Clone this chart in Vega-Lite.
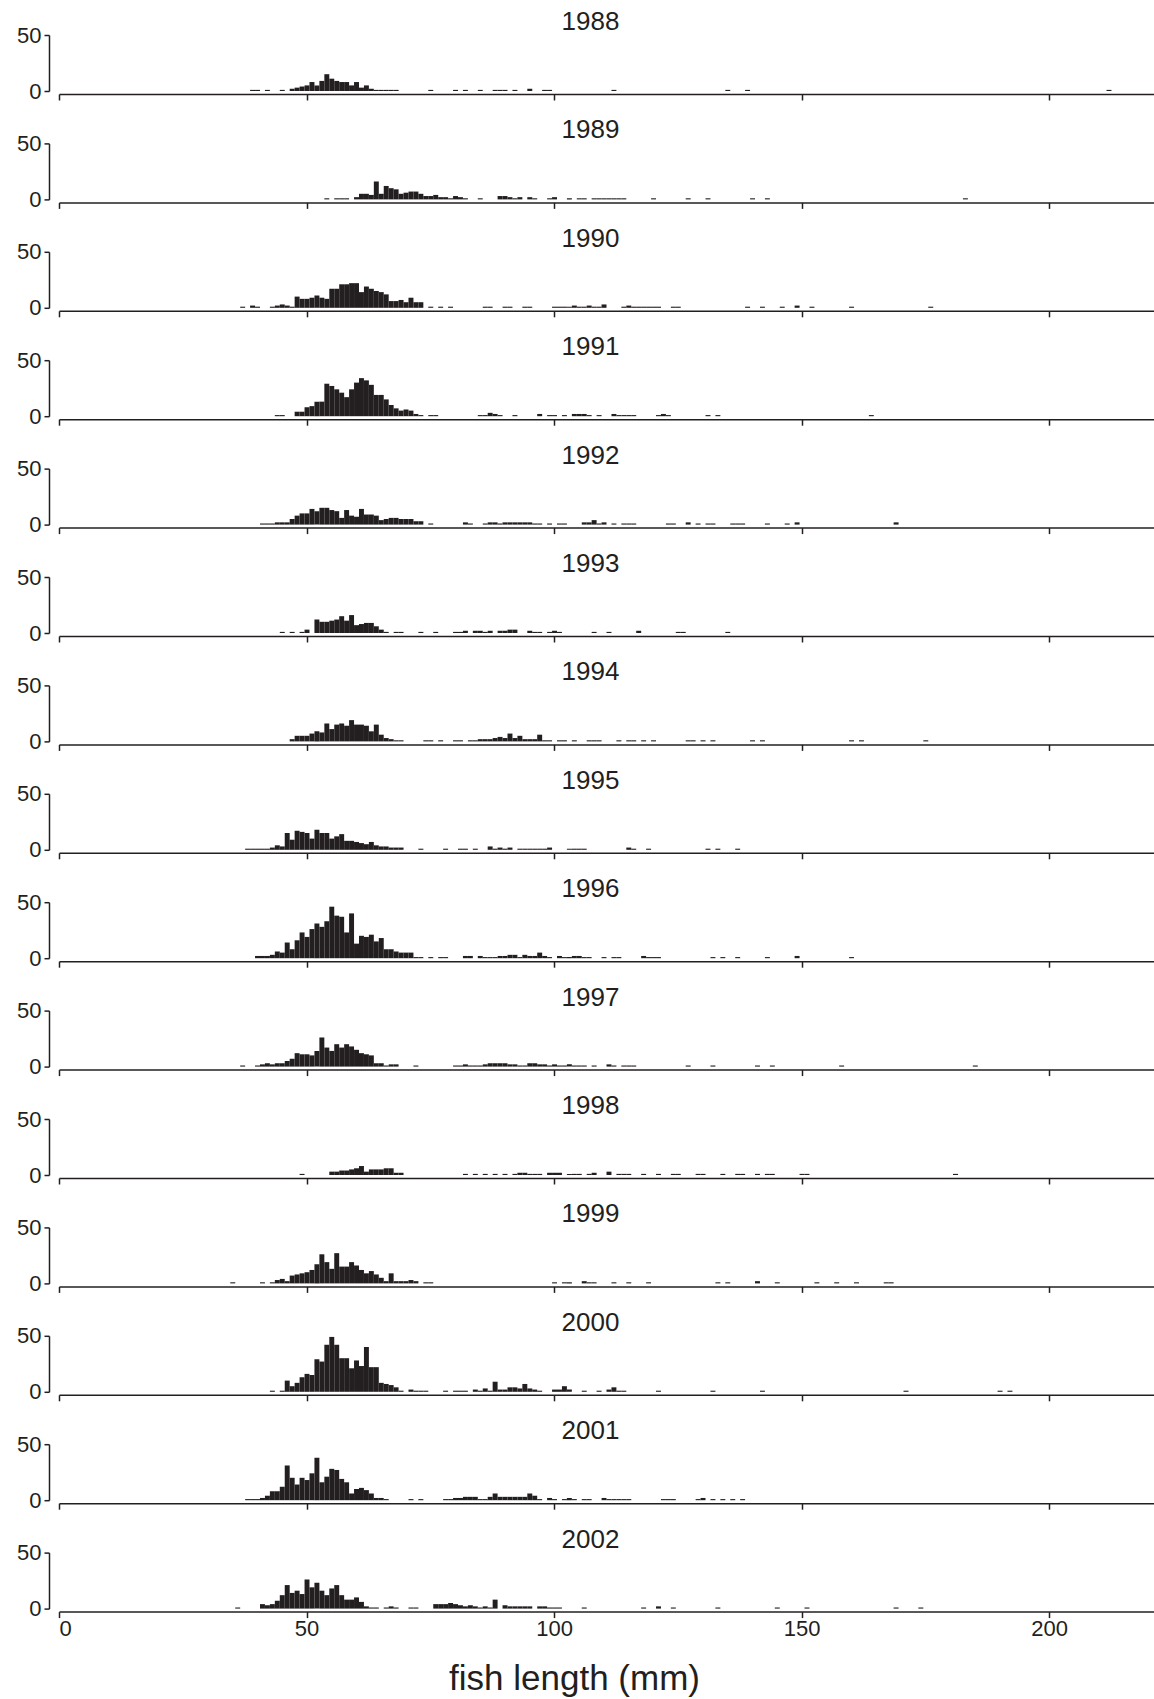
{
"$schema": "https://vega.github.io/schema/vega-lite/v6.json",
"padding": {"left": 16, "top": 9, "right": 0, "bottom": 0},
"bounds": "flush",
"spacing": 52.4,
"datasets": {
"d1988": [{"len":38.5,"n":1},{"len":39.5,"n":1},{"len":41.5,"n":1},{"len":44.5,"n":1},{"len":46.5,"n":2},{"len":47.5,"n":3},{"len":48.5,"n":4},{"len":49.5,"n":5},{"len":50.5,"n":8},{"len":51.5,"n":5},{"len":52.5,"n":9},{"len":53.5,"n":15},{"len":54.5,"n":11},{"len":55.5,"n":9},{"len":56.5,"n":8},{"len":57.5,"n":8},{"len":58.5,"n":5},{"len":59.5,"n":8},{"len":60.5,"n":3},{"len":61.5,"n":5},{"len":62.5,"n":2},{"len":63.5,"n":1},{"len":64.5,"n":1},{"len":65.5,"n":1},{"len":66.5,"n":1},{"len":67.5,"n":1},{"len":74.5,"n":1},{"len":79.5,"n":1},{"len":81.5,"n":1},{"len":84.5,"n":1},{"len":87.5,"n":1},{"len":88.5,"n":1},{"len":89.5,"n":1},{"len":91.5,"n":1},{"len":94.5,"n":2},{"len":97.5,"n":1},{"len":98.5,"n":1},{"len":111.5,"n":1},{"len":134.5,"n":1},{"len":138.5,"n":1},{"len":211.5,"n":1}],
"d1989": [{"len":53.5,"n":1},{"len":55.5,"n":1},{"len":56.5,"n":1},{"len":57.5,"n":1},{"len":59.5,"n":2},{"len":60.5,"n":5},{"len":61.5,"n":5},{"len":62.5,"n":4},{"len":63.5,"n":16},{"len":64.5,"n":5},{"len":65.5,"n":12},{"len":66.5,"n":10},{"len":67.5,"n":9},{"len":68.5,"n":5},{"len":69.5,"n":6},{"len":70.5,"n":7},{"len":71.5,"n":7},{"len":72.5,"n":5},{"len":73.5,"n":3},{"len":74.5,"n":3},{"len":75.5,"n":4},{"len":76.5,"n":2},{"len":77.5,"n":2},{"len":78.5,"n":1},{"len":79.5,"n":3},{"len":80.5,"n":2},{"len":81.5,"n":1},{"len":84.5,"n":1},{"len":88.5,"n":3},{"len":89.5,"n":3},{"len":90.5,"n":2},{"len":91.5,"n":1},{"len":92.5,"n":2},{"len":94.5,"n":2},{"len":95.5,"n":1},{"len":98.5,"n":1},{"len":99.5,"n":2},{"len":102.5,"n":1},{"len":104.5,"n":1},{"len":105.5,"n":1},{"len":107.5,"n":1},{"len":108.5,"n":1},{"len":109.5,"n":1},{"len":110.5,"n":1},{"len":111.5,"n":1},{"len":112.5,"n":1},{"len":113.5,"n":1},{"len":119.5,"n":1},{"len":126.5,"n":1},{"len":130.5,"n":1},{"len":139.5,"n":1},{"len":142.5,"n":1},{"len":182.5,"n":1}],
"d1990": [{"len":36.5,"n":1},{"len":38.5,"n":2},{"len":39.5,"n":1},{"len":42.5,"n":1},{"len":43.5,"n":2},{"len":44.5,"n":3},{"len":45.5,"n":2},{"len":46.5,"n":1},{"len":47.5,"n":10},{"len":48.5,"n":8},{"len":49.5,"n":8},{"len":50.5,"n":9},{"len":51.5,"n":11},{"len":52.5,"n":9},{"len":53.5,"n":8},{"len":54.5,"n":17},{"len":55.5,"n":17},{"len":56.5,"n":21},{"len":57.5,"n":21},{"len":58.5,"n":22},{"len":59.5,"n":22},{"len":60.5,"n":14},{"len":61.5,"n":19},{"len":62.5,"n":17},{"len":63.5,"n":15},{"len":64.5,"n":14},{"len":65.5,"n":12},{"len":66.5,"n":6},{"len":67.5,"n":6},{"len":68.5,"n":7},{"len":69.5,"n":5},{"len":70.5,"n":9},{"len":71.5,"n":5},{"len":72.5,"n":5},{"len":74.5,"n":1},{"len":76.5,"n":1},{"len":78.5,"n":1},{"len":85.5,"n":1},{"len":86.5,"n":1},{"len":89.5,"n":1},{"len":90.5,"n":1},{"len":93.5,"n":1},{"len":94.5,"n":1},{"len":99.5,"n":1},{"len":100.5,"n":1},{"len":101.5,"n":1},{"len":102.5,"n":1},{"len":103.5,"n":2},{"len":104.5,"n":1},{"len":105.5,"n":1},{"len":106.5,"n":2},{"len":107.5,"n":1},{"len":108.5,"n":1},{"len":109.5,"n":3},{"len":113.5,"n":1},{"len":114.5,"n":2},{"len":115.5,"n":1},{"len":116.5,"n":1},{"len":117.5,"n":1},{"len":118.5,"n":1},{"len":119.5,"n":1},{"len":120.5,"n":1},{"len":123.5,"n":1},{"len":124.5,"n":1},{"len":138.5,"n":1},{"len":141.5,"n":1},{"len":145.5,"n":1},{"len":148.5,"n":2},{"len":151.5,"n":1},{"len":159.5,"n":1},{"len":175.5,"n":1}],
"d1991": [{"len":43.5,"n":1},{"len":44.5,"n":1},{"len":47.5,"n":4},{"len":48.5,"n":4},{"len":49.5,"n":8},{"len":50.5,"n":9},{"len":51.5,"n":13},{"len":52.5,"n":13},{"len":53.5,"n":29},{"len":54.5,"n":27},{"len":55.5,"n":24},{"len":56.5,"n":21},{"len":57.5,"n":17},{"len":58.5,"n":24},{"len":59.5,"n":30},{"len":60.5,"n":34},{"len":61.5,"n":32},{"len":62.5,"n":28},{"len":63.5,"n":19},{"len":64.5,"n":19},{"len":65.5,"n":15},{"len":66.5,"n":10},{"len":67.5,"n":7},{"len":68.5,"n":5},{"len":69.5,"n":6},{"len":70.5,"n":5},{"len":71.5,"n":2},{"len":72.5,"n":1},{"len":74.5,"n":1},{"len":75.5,"n":1},{"len":84.5,"n":1},{"len":85.5,"n":1},{"len":86.5,"n":3},{"len":87.5,"n":2},{"len":88.5,"n":1},{"len":91.5,"n":1},{"len":96.5,"n":2},{"len":98.5,"n":1},{"len":99.5,"n":1},{"len":101.5,"n":1},{"len":103.5,"n":2},{"len":104.5,"n":2},{"len":105.5,"n":2},{"len":106.5,"n":1},{"len":108.5,"n":1},{"len":111.5,"n":2},{"len":112.5,"n":1},{"len":113.5,"n":1},{"len":114.5,"n":1},{"len":115.5,"n":1},{"len":120.5,"n":1},{"len":121.5,"n":2},{"len":122.5,"n":1},{"len":130.5,"n":1},{"len":132.5,"n":1},{"len":163.5,"n":1}],
"d1992": [{"len":40.5,"n":1},{"len":41.5,"n":1},{"len":42.5,"n":1},{"len":43.5,"n":2},{"len":44.5,"n":2},{"len":45.5,"n":2},{"len":46.5,"n":5},{"len":47.5,"n":8},{"len":48.5,"n":10},{"len":49.5,"n":10},{"len":50.5,"n":14},{"len":51.5,"n":12},{"len":52.5,"n":15},{"len":53.5,"n":15},{"len":54.5,"n":13},{"len":55.5,"n":12},{"len":56.5,"n":6},{"len":57.5,"n":13},{"len":58.5,"n":8},{"len":59.5,"n":7},{"len":60.5,"n":14},{"len":61.5,"n":9},{"len":62.5,"n":9},{"len":63.5,"n":8},{"len":64.5,"n":4},{"len":65.5,"n":5},{"len":66.5,"n":6},{"len":67.5,"n":6},{"len":68.5,"n":5},{"len":69.5,"n":5},{"len":70.5,"n":5},{"len":71.5,"n":3},{"len":72.5,"n":3},{"len":74.5,"n":1},{"len":81.5,"n":2},{"len":82.5,"n":1},{"len":85.5,"n":1},{"len":86.5,"n":2},{"len":87.5,"n":2},{"len":88.5,"n":1},{"len":89.5,"n":2},{"len":90.5,"n":2},{"len":91.5,"n":2},{"len":92.5,"n":2},{"len":93.5,"n":2},{"len":94.5,"n":2},{"len":95.5,"n":1},{"len":96.5,"n":1},{"len":98.5,"n":1},{"len":100.5,"n":1},{"len":101.5,"n":1},{"len":105.5,"n":2},{"len":106.5,"n":2},{"len":107.5,"n":4},{"len":108.5,"n":1},{"len":109.5,"n":2},{"len":111.5,"n":1},{"len":113.5,"n":1},{"len":114.5,"n":1},{"len":115.5,"n":1},{"len":122.5,"n":1},{"len":123.5,"n":1},{"len":126.5,"n":2},{"len":128.5,"n":1},{"len":130.5,"n":1},{"len":131.5,"n":1},{"len":135.5,"n":1},{"len":136.5,"n":1},{"len":137.5,"n":1},{"len":142.5,"n":1},{"len":146.5,"n":1},{"len":148.5,"n":2},{"len":168.5,"n":2}],
"d1993": [{"len":44.5,"n":1},{"len":46.5,"n":1},{"len":48.5,"n":1},{"len":49.5,"n":3},{"len":51.5,"n":12},{"len":52.5,"n":10},{"len":53.5,"n":10},{"len":54.5,"n":11},{"len":55.5,"n":12},{"len":56.5,"n":15},{"len":57.5,"n":11},{"len":58.5,"n":16},{"len":59.5,"n":7},{"len":60.5,"n":8},{"len":61.5,"n":9},{"len":62.5,"n":9},{"len":63.5,"n":6},{"len":64.5,"n":3},{"len":65.5,"n":1},{"len":67.5,"n":1},{"len":68.5,"n":1},{"len":72.5,"n":1},{"len":75.5,"n":1},{"len":79.5,"n":1},{"len":80.5,"n":1},{"len":81.5,"n":2},{"len":83.5,"n":2},{"len":84.5,"n":2},{"len":85.5,"n":1},{"len":86.5,"n":2},{"len":88.5,"n":2},{"len":89.5,"n":2},{"len":90.5,"n":3},{"len":91.5,"n":3},{"len":94.5,"n":2},{"len":95.5,"n":1},{"len":96.5,"n":1},{"len":98.5,"n":1},{"len":99.5,"n":2},{"len":100.5,"n":1},{"len":107.5,"n":1},{"len":110.5,"n":1},{"len":116.5,"n":2},{"len":124.5,"n":1},{"len":125.5,"n":1},{"len":134.5,"n":1}],
"d1994": [{"len":46.5,"n":2},{"len":47.5,"n":5},{"len":48.5,"n":5},{"len":49.5,"n":5},{"len":50.5,"n":7},{"len":51.5,"n":9},{"len":52.5,"n":8},{"len":53.5,"n":16},{"len":54.5,"n":11},{"len":55.5,"n":15},{"len":56.5,"n":16},{"len":57.5,"n":14},{"len":58.5,"n":19},{"len":59.5,"n":15},{"len":60.5,"n":15},{"len":61.5,"n":14},{"len":62.5,"n":9},{"len":63.5,"n":15},{"len":64.5,"n":6},{"len":65.5,"n":3},{"len":66.5,"n":2},{"len":67.5,"n":1},{"len":68.5,"n":1},{"len":73.5,"n":1},{"len":74.5,"n":1},{"len":76.5,"n":1},{"len":79.5,"n":1},{"len":80.5,"n":1},{"len":82.5,"n":1},{"len":83.5,"n":1},{"len":84.5,"n":2},{"len":85.5,"n":2},{"len":86.5,"n":2},{"len":87.5,"n":3},{"len":88.5,"n":4},{"len":89.5,"n":3},{"len":90.5,"n":7},{"len":91.5,"n":3},{"len":92.5,"n":5},{"len":93.5,"n":2},{"len":94.5,"n":2},{"len":95.5,"n":2},{"len":96.5,"n":6},{"len":97.5,"n":1},{"len":98.5,"n":1},{"len":100.5,"n":1},{"len":101.5,"n":1},{"len":103.5,"n":1},{"len":106.5,"n":1},{"len":107.5,"n":1},{"len":108.5,"n":1},{"len":112.5,"n":1},{"len":114.5,"n":1},{"len":115.5,"n":1},{"len":117.5,"n":1},{"len":119.5,"n":1},{"len":126.5,"n":1},{"len":127.5,"n":1},{"len":129.5,"n":1},{"len":131.5,"n":1},{"len":139.5,"n":1},{"len":141.5,"n":1},{"len":159.5,"n":1},{"len":161.5,"n":1},{"len":174.5,"n":1}],
"d1995": [{"len":37.5,"n":1},{"len":38.5,"n":1},{"len":39.5,"n":1},{"len":40.5,"n":1},{"len":41.5,"n":1},{"len":42.5,"n":2},{"len":43.5,"n":4},{"len":44.5,"n":3},{"len":45.5,"n":15},{"len":46.5,"n":9},{"len":47.5,"n":17},{"len":48.5,"n":16},{"len":49.5,"n":15},{"len":50.5,"n":10},{"len":51.5,"n":18},{"len":52.5,"n":15},{"len":53.5,"n":15},{"len":54.5,"n":10},{"len":55.5,"n":12},{"len":56.5,"n":14},{"len":57.5,"n":8},{"len":58.5,"n":8},{"len":59.5,"n":7},{"len":60.5,"n":6},{"len":61.5,"n":5},{"len":62.5,"n":7},{"len":63.5,"n":4},{"len":64.5,"n":3},{"len":65.5,"n":3},{"len":66.5,"n":2},{"len":67.5,"n":2},{"len":68.5,"n":2},{"len":72.5,"n":1},{"len":77.5,"n":1},{"len":80.5,"n":1},{"len":81.5,"n":1},{"len":83.5,"n":1},{"len":86.5,"n":3},{"len":87.5,"n":1},{"len":88.5,"n":2},{"len":89.5,"n":1},{"len":90.5,"n":2},{"len":92.5,"n":1},{"len":93.5,"n":1},{"len":94.5,"n":1},{"len":95.5,"n":1},{"len":96.5,"n":1},{"len":97.5,"n":1},{"len":98.5,"n":2},{"len":102.5,"n":1},{"len":103.5,"n":1},{"len":104.5,"n":1},{"len":105.5,"n":1},{"len":114.5,"n":2},{"len":115.5,"n":1},{"len":118.5,"n":1},{"len":130.5,"n":1},{"len":132.5,"n":1},{"len":136.5,"n":1}],
"d1996": [{"len":39.5,"n":2},{"len":40.5,"n":2},{"len":41.5,"n":2},{"len":42.5,"n":3},{"len":43.5,"n":6},{"len":44.5,"n":5},{"len":45.5,"n":14},{"len":46.5,"n":8},{"len":47.5,"n":16},{"len":48.5,"n":23},{"len":49.5,"n":19},{"len":50.5,"n":26},{"len":51.5,"n":31},{"len":52.5,"n":28},{"len":53.5,"n":33},{"len":54.5,"n":46},{"len":55.5,"n":38},{"len":56.5,"n":37},{"len":57.5,"n":23},{"len":58.5,"n":40},{"len":59.5,"n":13},{"len":60.5,"n":20},{"len":61.5,"n":19},{"len":62.5,"n":21},{"len":63.5,"n":15},{"len":64.5,"n":18},{"len":65.5,"n":8},{"len":66.5,"n":8},{"len":67.5,"n":6},{"len":68.5,"n":5},{"len":69.5,"n":5},{"len":70.5,"n":5},{"len":71.5,"n":1},{"len":72.5,"n":1},{"len":74.5,"n":1},{"len":76.5,"n":1},{"len":77.5,"n":1},{"len":81.5,"n":2},{"len":82.5,"n":2},{"len":84.5,"n":2},{"len":85.5,"n":1},{"len":86.5,"n":1},{"len":87.5,"n":1},{"len":88.5,"n":2},{"len":89.5,"n":2},{"len":90.5,"n":3},{"len":91.5,"n":3},{"len":92.5,"n":1},{"len":93.5,"n":3},{"len":94.5,"n":2},{"len":95.5,"n":2},{"len":96.5,"n":5},{"len":97.5,"n":2},{"len":98.5,"n":1},{"len":100.5,"n":2},{"len":101.5,"n":1},{"len":102.5,"n":1},{"len":103.5,"n":2},{"len":104.5,"n":2},{"len":105.5,"n":1},{"len":106.5,"n":1},{"len":109.5,"n":1},{"len":111.5,"n":1},{"len":112.5,"n":1},{"len":117.5,"n":2},{"len":118.5,"n":1},{"len":119.5,"n":1},{"len":120.5,"n":1},{"len":131.5,"n":1},{"len":133.5,"n":1},{"len":136.5,"n":1},{"len":142.5,"n":1},{"len":148.5,"n":2},{"len":159.5,"n":1}],
"d1997": [{"len":36.5,"n":1},{"len":39.5,"n":1},{"len":40.5,"n":2},{"len":41.5,"n":3},{"len":42.5,"n":2},{"len":43.5,"n":3},{"len":44.5,"n":3},{"len":45.5,"n":5},{"len":46.5,"n":7},{"len":47.5,"n":12},{"len":48.5,"n":11},{"len":49.5,"n":11},{"len":50.5,"n":10},{"len":51.5,"n":14},{"len":52.5,"n":26},{"len":53.5,"n":17},{"len":54.5,"n":14},{"len":55.5,"n":20},{"len":56.5,"n":17},{"len":57.5,"n":20},{"len":58.5,"n":18},{"len":59.5,"n":15},{"len":60.5,"n":12},{"len":61.5,"n":11},{"len":62.5,"n":10},{"len":63.5,"n":3},{"len":64.5,"n":3},{"len":65.5,"n":1},{"len":66.5,"n":2},{"len":67.5,"n":2},{"len":71.5,"n":1},{"len":79.5,"n":1},{"len":80.5,"n":1},{"len":81.5,"n":2},{"len":82.5,"n":1},{"len":83.5,"n":1},{"len":84.5,"n":1},{"len":85.5,"n":2},{"len":86.5,"n":3},{"len":87.5,"n":3},{"len":88.5,"n":3},{"len":89.5,"n":3},{"len":90.5,"n":2},{"len":91.5,"n":2},{"len":92.5,"n":1},{"len":93.5,"n":1},{"len":94.5,"n":3},{"len":95.5,"n":3},{"len":96.5,"n":2},{"len":97.5,"n":2},{"len":98.5,"n":1},{"len":99.5,"n":2},{"len":100.5,"n":1},{"len":101.5,"n":1},{"len":102.5,"n":2},{"len":103.5,"n":1},{"len":104.5,"n":1},{"len":105.5,"n":1},{"len":107.5,"n":1},{"len":110.5,"n":2},{"len":111.5,"n":1},{"len":113.5,"n":1},{"len":114.5,"n":1},{"len":115.5,"n":1},{"len":126.5,"n":1},{"len":131.5,"n":1},{"len":140.5,"n":1},{"len":143.5,"n":1},{"len":157.5,"n":1},{"len":184.5,"n":1}],
"d1998": [{"len":48.5,"n":1},{"len":54.5,"n":3},{"len":55.5,"n":3},{"len":56.5,"n":4},{"len":57.5,"n":4},{"len":58.5,"n":5},{"len":59.5,"n":6},{"len":60.5,"n":8},{"len":61.5,"n":3},{"len":62.5,"n":5},{"len":63.5,"n":5},{"len":64.5,"n":5},{"len":65.5,"n":6},{"len":66.5,"n":6},{"len":67.5,"n":2},{"len":68.5,"n":2},{"len":81.5,"n":1},{"len":83.5,"n":1},{"len":85.5,"n":1},{"len":87.5,"n":1},{"len":89.5,"n":1},{"len":91.5,"n":1},{"len":92.5,"n":2},{"len":93.5,"n":2},{"len":94.5,"n":1},{"len":95.5,"n":1},{"len":96.5,"n":1},{"len":98.5,"n":2},{"len":99.5,"n":2},{"len":100.5,"n":2},{"len":102.5,"n":1},{"len":103.5,"n":1},{"len":104.5,"n":1},{"len":106.5,"n":1},{"len":107.5,"n":2},{"len":110.5,"n":3},{"len":112.5,"n":1},{"len":113.5,"n":1},{"len":114.5,"n":1},{"len":117.5,"n":1},{"len":120.5,"n":1},{"len":123.5,"n":1},{"len":124.5,"n":1},{"len":128.5,"n":1},{"len":129.5,"n":1},{"len":133.5,"n":1},{"len":136.5,"n":1},{"len":137.5,"n":1},{"len":140.5,"n":1},{"len":142.5,"n":1},{"len":143.5,"n":1},{"len":149.5,"n":1},{"len":150.5,"n":1},{"len":180.5,"n":1}],
"d1999": [{"len":34.5,"n":1},{"len":40.5,"n":1},{"len":42.5,"n":1},{"len":43.5,"n":3},{"len":44.5,"n":4},{"len":45.5,"n":2},{"len":46.5,"n":7},{"len":47.5,"n":8},{"len":48.5,"n":9},{"len":49.5,"n":10},{"len":50.5,"n":12},{"len":51.5,"n":17},{"len":52.5,"n":26},{"len":53.5,"n":19},{"len":54.5,"n":13},{"len":55.5,"n":27},{"len":56.5,"n":15},{"len":57.5,"n":15},{"len":58.5,"n":19},{"len":59.5,"n":16},{"len":60.5,"n":12},{"len":61.5,"n":9},{"len":62.5,"n":11},{"len":63.5,"n":8},{"len":64.5,"n":5},{"len":65.5,"n":2},{"len":66.5,"n":9},{"len":67.5,"n":2},{"len":68.5,"n":2},{"len":69.5,"n":2},{"len":70.5,"n":3},{"len":71.5,"n":2},{"len":73.5,"n":1},{"len":74.5,"n":1},{"len":99.5,"n":1},{"len":101.5,"n":1},{"len":102.5,"n":1},{"len":105.5,"n":2},{"len":106.5,"n":1},{"len":107.5,"n":1},{"len":111.5,"n":1},{"len":114.5,"n":1},{"len":118.5,"n":1},{"len":132.5,"n":1},{"len":134.5,"n":1},{"len":140.5,"n":2},{"len":144.5,"n":1},{"len":152.5,"n":1},{"len":156.5,"n":1},{"len":160.5,"n":1},{"len":166.5,"n":1},{"len":167.5,"n":1}],
"d2000": [{"len":42.5,"n":1},{"len":44.5,"n":1},{"len":45.5,"n":10},{"len":46.5,"n":5},{"len":47.5,"n":8},{"len":48.5,"n":13},{"len":49.5,"n":16},{"len":50.5,"n":15},{"len":51.5,"n":29},{"len":52.5,"n":27},{"len":53.5,"n":42},{"len":54.5,"n":49},{"len":55.5,"n":42},{"len":56.5,"n":30},{"len":57.5,"n":30},{"len":58.5,"n":21},{"len":59.5,"n":28},{"len":60.5,"n":23},{"len":61.5,"n":40},{"len":62.5,"n":22},{"len":63.5,"n":22},{"len":64.5,"n":8},{"len":65.5,"n":7},{"len":66.5,"n":6},{"len":67.5,"n":4},{"len":68.5,"n":1},{"len":70.5,"n":2},{"len":71.5,"n":1},{"len":72.5,"n":1},{"len":73.5,"n":1},{"len":77.5,"n":1},{"len":79.5,"n":1},{"len":80.5,"n":1},{"len":81.5,"n":1},{"len":83.5,"n":2},{"len":84.5,"n":1},{"len":85.5,"n":3},{"len":86.5,"n":1},{"len":87.5,"n":9},{"len":88.5,"n":2},{"len":89.5,"n":2},{"len":90.5,"n":4},{"len":91.5,"n":4},{"len":92.5,"n":3},{"len":93.5,"n":7},{"len":94.5,"n":3},{"len":95.5,"n":2},{"len":96.5,"n":1},{"len":99.5,"n":2},{"len":100.5,"n":2},{"len":101.5,"n":5},{"len":102.5,"n":2},{"len":105.5,"n":1},{"len":108.5,"n":1},{"len":110.5,"n":2},{"len":111.5,"n":4},{"len":112.5,"n":1},{"len":113.5,"n":1},{"len":120.5,"n":1},{"len":131.5,"n":1},{"len":141.5,"n":1},{"len":170.5,"n":1},{"len":189.5,"n":1},{"len":191.5,"n":1}],
"d2001": [{"len":37.5,"n":1},{"len":38.5,"n":1},{"len":39.5,"n":1},{"len":40.5,"n":2},{"len":41.5,"n":4},{"len":42.5,"n":8},{"len":43.5,"n":8},{"len":44.5,"n":12},{"len":45.5,"n":31},{"len":46.5,"n":20},{"len":47.5,"n":14},{"len":48.5,"n":20},{"len":49.5,"n":18},{"len":50.5,"n":24},{"len":51.5,"n":38},{"len":52.5,"n":16},{"len":53.5,"n":21},{"len":54.5,"n":28},{"len":55.5,"n":27},{"len":56.5,"n":19},{"len":57.5,"n":16},{"len":58.5,"n":6},{"len":59.5,"n":10},{"len":60.5,"n":11},{"len":61.5,"n":9},{"len":62.5,"n":6},{"len":63.5,"n":2},{"len":64.5,"n":2},{"len":65.5,"n":1},{"len":70.5,"n":1},{"len":72.5,"n":1},{"len":77.5,"n":1},{"len":78.5,"n":1},{"len":79.5,"n":2},{"len":80.5,"n":2},{"len":81.5,"n":3},{"len":82.5,"n":3},{"len":83.5,"n":3},{"len":84.5,"n":1},{"len":85.5,"n":1},{"len":86.5,"n":3},{"len":87.5,"n":6},{"len":88.5,"n":3},{"len":89.5,"n":3},{"len":90.5,"n":3},{"len":91.5,"n":3},{"len":92.5,"n":3},{"len":93.5,"n":3},{"len":94.5,"n":6},{"len":95.5,"n":4},{"len":96.5,"n":1},{"len":98.5,"n":2},{"len":99.5,"n":1},{"len":101.5,"n":1},{"len":102.5,"n":2},{"len":103.5,"n":1},{"len":105.5,"n":1},{"len":106.5,"n":1},{"len":109.5,"n":2},{"len":110.5,"n":1},{"len":111.5,"n":1},{"len":112.5,"n":1},{"len":113.5,"n":1},{"len":114.5,"n":1},{"len":121.5,"n":1},{"len":122.5,"n":1},{"len":123.5,"n":1},{"len":128.5,"n":1},{"len":129.5,"n":2},{"len":131.5,"n":1},{"len":133.5,"n":1},{"len":135.5,"n":1},{"len":137.5,"n":1}],
"d2002": [{"len":35.5,"n":1},{"len":40.5,"n":4},{"len":41.5,"n":3},{"len":42.5,"n":4},{"len":43.5,"n":7},{"len":44.5,"n":12},{"len":45.5,"n":21},{"len":46.5,"n":14},{"len":47.5,"n":16},{"len":48.5,"n":13},{"len":49.5,"n":26},{"len":50.5,"n":19},{"len":51.5,"n":23},{"len":52.5,"n":16},{"len":53.5,"n":12},{"len":54.5,"n":18},{"len":55.5,"n":21},{"len":56.5,"n":12},{"len":57.5,"n":8},{"len":58.5,"n":8},{"len":59.5,"n":10},{"len":60.5,"n":6},{"len":61.5,"n":2},{"len":62.5,"n":1},{"len":63.5,"n":1},{"len":65.5,"n":1},{"len":66.5,"n":2},{"len":67.5,"n":1},{"len":70.5,"n":1},{"len":71.5,"n":1},{"len":75.5,"n":4},{"len":76.5,"n":4},{"len":77.5,"n":4},{"len":78.5,"n":5},{"len":79.5,"n":4},{"len":80.5,"n":3},{"len":81.5,"n":2},{"len":82.5,"n":3},{"len":83.5,"n":2},{"len":84.5,"n":1},{"len":85.5,"n":2},{"len":86.5,"n":1},{"len":87.5,"n":8},{"len":89.5,"n":3},{"len":90.5,"n":2},{"len":91.5,"n":2},{"len":92.5,"n":2},{"len":93.5,"n":2},{"len":94.5,"n":2},{"len":96.5,"n":2},{"len":97.5,"n":2},{"len":98.5,"n":1},{"len":99.5,"n":1},{"len":100.5,"n":1},{"len":105.5,"n":1},{"len":117.5,"n":1},{"len":120.5,"n":2},{"len":123.5,"n":1},{"len":132.5,"n":1},{"len":144.5,"n":1},{"len":150.5,"n":1},{"len":168.5,"n":1},{"len":173.5,"n":1}]
},
"vconcat": [
{"data":{"name":"d1988"},"title":"1988","mark":"bar","encoding":{"x":{"field":"len","type":"quantitative","bin":{"binned":true,"step":1},"scale":{"domain":[0,221.2],"nice":false,"zero":false},"axis":{"values":[0,50,100,150,200],"labels":false,"title":null}},"y":{"field":"n","type":"quantitative","scale":{"domain":[0,50],"nice":false},"axis":{"values":[0,50],"title":null}}}},
{"data":{"name":"d1989"},"title":"1989","mark":"bar","encoding":{"x":{"field":"len","type":"quantitative","bin":{"binned":true,"step":1},"scale":{"domain":[0,221.2],"nice":false,"zero":false},"axis":{"values":[0,50,100,150,200],"labels":false,"title":null}},"y":{"field":"n","type":"quantitative","scale":{"domain":[0,50],"nice":false},"axis":{"values":[0,50],"title":null}}}},
{"data":{"name":"d1990"},"title":"1990","mark":"bar","encoding":{"x":{"field":"len","type":"quantitative","bin":{"binned":true,"step":1},"scale":{"domain":[0,221.2],"nice":false,"zero":false},"axis":{"values":[0,50,100,150,200],"labels":false,"title":null}},"y":{"field":"n","type":"quantitative","scale":{"domain":[0,50],"nice":false},"axis":{"values":[0,50],"title":null}}}},
{"data":{"name":"d1991"},"title":"1991","mark":"bar","encoding":{"x":{"field":"len","type":"quantitative","bin":{"binned":true,"step":1},"scale":{"domain":[0,221.2],"nice":false,"zero":false},"axis":{"values":[0,50,100,150,200],"labels":false,"title":null}},"y":{"field":"n","type":"quantitative","scale":{"domain":[0,50],"nice":false},"axis":{"values":[0,50],"title":null}}}},
{"data":{"name":"d1992"},"title":"1992","mark":"bar","encoding":{"x":{"field":"len","type":"quantitative","bin":{"binned":true,"step":1},"scale":{"domain":[0,221.2],"nice":false,"zero":false},"axis":{"values":[0,50,100,150,200],"labels":false,"title":null}},"y":{"field":"n","type":"quantitative","scale":{"domain":[0,50],"nice":false},"axis":{"values":[0,50],"title":null}}}},
{"data":{"name":"d1993"},"title":"1993","mark":"bar","encoding":{"x":{"field":"len","type":"quantitative","bin":{"binned":true,"step":1},"scale":{"domain":[0,221.2],"nice":false,"zero":false},"axis":{"values":[0,50,100,150,200],"labels":false,"title":null}},"y":{"field":"n","type":"quantitative","scale":{"domain":[0,50],"nice":false},"axis":{"values":[0,50],"title":null}}}},
{"data":{"name":"d1994"},"title":"1994","mark":"bar","encoding":{"x":{"field":"len","type":"quantitative","bin":{"binned":true,"step":1},"scale":{"domain":[0,221.2],"nice":false,"zero":false},"axis":{"values":[0,50,100,150,200],"labels":false,"title":null}},"y":{"field":"n","type":"quantitative","scale":{"domain":[0,50],"nice":false},"axis":{"values":[0,50],"title":null}}}},
{"data":{"name":"d1995"},"title":"1995","mark":"bar","encoding":{"x":{"field":"len","type":"quantitative","bin":{"binned":true,"step":1},"scale":{"domain":[0,221.2],"nice":false,"zero":false},"axis":{"values":[0,50,100,150,200],"labels":false,"title":null}},"y":{"field":"n","type":"quantitative","scale":{"domain":[0,50],"nice":false},"axis":{"values":[0,50],"title":null}}}},
{"data":{"name":"d1996"},"title":"1996","mark":"bar","encoding":{"x":{"field":"len","type":"quantitative","bin":{"binned":true,"step":1},"scale":{"domain":[0,221.2],"nice":false,"zero":false},"axis":{"values":[0,50,100,150,200],"labels":false,"title":null}},"y":{"field":"n","type":"quantitative","scale":{"domain":[0,50],"nice":false},"axis":{"values":[0,50],"title":null}}}},
{"data":{"name":"d1997"},"title":"1997","mark":"bar","encoding":{"x":{"field":"len","type":"quantitative","bin":{"binned":true,"step":1},"scale":{"domain":[0,221.2],"nice":false,"zero":false},"axis":{"values":[0,50,100,150,200],"labels":false,"title":null}},"y":{"field":"n","type":"quantitative","scale":{"domain":[0,50],"nice":false},"axis":{"values":[0,50],"title":null}}}},
{"data":{"name":"d1998"},"title":"1998","mark":"bar","encoding":{"x":{"field":"len","type":"quantitative","bin":{"binned":true,"step":1},"scale":{"domain":[0,221.2],"nice":false,"zero":false},"axis":{"values":[0,50,100,150,200],"labels":false,"title":null}},"y":{"field":"n","type":"quantitative","scale":{"domain":[0,50],"nice":false},"axis":{"values":[0,50],"title":null}}}},
{"data":{"name":"d1999"},"title":"1999","mark":"bar","encoding":{"x":{"field":"len","type":"quantitative","bin":{"binned":true,"step":1},"scale":{"domain":[0,221.2],"nice":false,"zero":false},"axis":{"values":[0,50,100,150,200],"labels":false,"title":null}},"y":{"field":"n","type":"quantitative","scale":{"domain":[0,50],"nice":false},"axis":{"values":[0,50],"title":null}}}},
{"data":{"name":"d2000"},"title":"2000","mark":"bar","encoding":{"x":{"field":"len","type":"quantitative","bin":{"binned":true,"step":1},"scale":{"domain":[0,221.2],"nice":false,"zero":false},"axis":{"values":[0,50,100,150,200],"labels":false,"title":null}},"y":{"field":"n","type":"quantitative","scale":{"domain":[0,50],"nice":false},"axis":{"values":[0,50],"title":null}}}},
{"data":{"name":"d2001"},"title":"2001","mark":"bar","encoding":{"x":{"field":"len","type":"quantitative","bin":{"binned":true,"step":1},"scale":{"domain":[0,221.2],"nice":false,"zero":false},"axis":{"values":[0,50,100,150,200],"labels":false,"title":null}},"y":{"field":"n","type":"quantitative","scale":{"domain":[0,50],"nice":false},"axis":{"values":[0,50],"title":null}}}},
{"data":{"name":"d2002"},"title":"2002","mark":"bar","encoding":{"x":{"field":"len","type":"quantitative","bin":{"binned":true,"step":1},"scale":{"domain":[0,221.2],"nice":false,"zero":false},"axis":{"values":[0,50,100,150,200],"format":"d","labelPadding":1,"title":"fish length (mm)","titleFontSize":35,"titlePadding":22,"titleX":515}},"y":{"field":"n","type":"quantitative","scale":{"domain":[0,50],"nice":false},"axis":{"values":[0,50],"title":null}}}}
],
"config": {
"view": {"continuousWidth": 1095, "continuousHeight": 56, "stroke": null},
"bar": {"binSpacing": 0, "color": "#231f20"},
"title": {"font": "Liberation Sans", "fontSize": 26, "fontWeight": "normal", "color": "#231f20", "anchor": "middle", "dx": -16, "offset": -11, "baseline": "alphabetic"},
"axis": {"grid": false, "domainColor": "#231f20", "domainWidth": 1.5, "tickColor": "#231f20", "tickWidth": 1.5, "labelFont": "Liberation Sans", "labelFontSize": 22, "labelColor": "#231f20", "titleFont": "Liberation Sans", "titleFontWeight": "normal", "titleColor": "#231f20"},
"axisX": {"offset": 3, "tickSize": 6, "labelPadding": 4},
"axisY": {"offset": 10, "tickSize": 5, "labelPadding": 3}
}
}
